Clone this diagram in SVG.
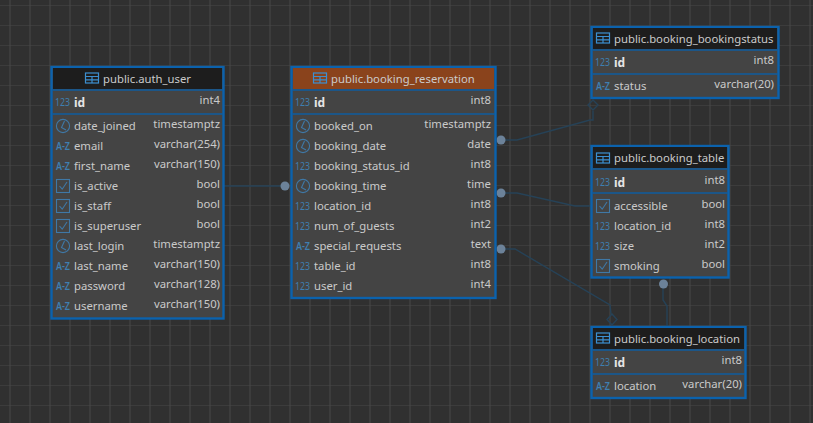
<svg xmlns="http://www.w3.org/2000/svg" width="813" height="423" viewBox="0 0 813 423">
<style>
text{font-family:"Noto Sans","Liberation Sans",sans-serif;font-size:11.3px;fill:#cacaca}
.box{fill:#444444;stroke:#0b62ad;stroke-width:2.4}
.hd{fill:#1d1d1d}
.hdr{fill:#8a431c}
.sep{stroke:#0f5c9f;stroke-width:1.4;fill:none}
.b{font-weight:700;fill:#e4e4e4;font-size:12px}
.t{text-anchor:end}
.n{fill:#3f7fb0;font-size:11.5px}
.az{fill:#3f7fb0;font-size:11px;font-weight:600}
.ic{fill:none;stroke:#3f78a6;stroke-width:1.1}
.tb{fill:none;stroke:#3c8fd0;stroke-width:1.2}
.c{fill:none;stroke:#264257;stroke-width:1.4}
.dot{fill:#6c8299}
.dia{fill:none;stroke:#264257;stroke-width:1.4}
</style>
<defs>
<pattern id="grid" width="20" height="20" patternUnits="userSpaceOnUse" x="0" y="-15">
<rect width="20" height="20" fill="#303030"/>
<path d="M10 0V20M0 0H20" stroke="#474747" stroke-width="1" fill="none"/>
</pattern>
<g id="clk"><circle r="6.6" class="ic"/><path d="M1.500 -5L-1.500 1.500L3 4" class="ic"/></g>
<g id="chk"><rect x="-6.5" y="-6.5" width="13" height="13" class="ic"/><path d="M-3.5 0L-0.8 3.2L4 -4" class="ic"/></g>
<g id="tbl"><rect x="-6.5" y="-5" width="13" height="10" class="tb"/><path d="M-6.5 -1.5H6.5M-6.5 1.8H6.5M0 -1.5V5" class="tb"/></g>
</defs>
<rect width="813" height="423" fill="url(#grid)"/>

<g id="connectors">
<path class="c" d="M224 186H285"/>
<circle class="dot" cx="285" cy="186" r="4.5"/>
<path class="c" d="M501 140H517L590 120H593V111"/>
<path class="dia" d="M593 100L598 105L593 110L588 105Z"/>
<circle class="dot" cx="501" cy="140" r="4.5"/>
<path class="c" d="M501 193H517L575 206H591"/>
<circle class="dot" cx="501" cy="193" r="4.5"/>
<path class="c" d="M501 249H515L610 305L611 314"/>
<path class="dia" d="M612 314L617 319.500L612 325L607 319.500Z"/>
<circle class="dot" cx="501" cy="249" r="4.5"/>
<path class="c" d="M663 284V300L667 306V326"/>
<circle class="dot" cx="663.500" cy="284" r="4.500"/>
</g>

<g id="auth_user">
<rect class="box" x="51.500" y="67" width="172" height="251.500"/>
<rect class="hd" x="53" y="68" width="169" height="21"/>
<path class="sep" d="M52 90H223M52 114H223"/>
<use href="#tbl" x="92" y="78"/>
<text x="103" y="82.500">public.auth_user</text>
<text class="n" x="55" y="106" textLength="15" lengthAdjust="spacingAndGlyphs">123</text><text class="b" x="74" y="106.500">id</text><text class="t" x="220" y="104">int4</text>
<use href="#clk" x="63" y="126"/><text x="74" y="130">date_joined</text><text class="t" x="220" y="128">timestamptz</text>
<text class="az" x="56" y="150" textLength="14" lengthAdjust="spacingAndGlyphs">A-Z</text><text x="74" y="150">email</text><text class="t" x="220" y="148">varchar(254)</text>
<text class="az" x="56" y="170" textLength="14" lengthAdjust="spacingAndGlyphs">A-Z</text><text x="74" y="170">first_name</text><text class="t" x="220" y="168">varchar(150)</text>
<use href="#chk" x="63" y="186"/><text x="74" y="190">is_active</text><text class="t" x="220" y="188">bool</text>
<use href="#chk" x="63" y="206"/><text x="74" y="210">is_staff</text><text class="t" x="220" y="208">bool</text>
<use href="#chk" x="63" y="226"/><text x="74" y="230">is_superuser</text><text class="t" x="220" y="228">bool</text>
<use href="#clk" x="63" y="246"/><text x="74" y="250">last_login</text><text class="t" x="220" y="248">timestamptz</text>
<text class="az" x="56" y="270" textLength="14" lengthAdjust="spacingAndGlyphs">A-Z</text><text x="74" y="270">last_name</text><text class="t" x="220" y="268">varchar(150)</text>
<text class="az" x="56" y="290" textLength="14" lengthAdjust="spacingAndGlyphs">A-Z</text><text x="74" y="290">password</text><text class="t" x="220" y="288">varchar(128)</text>
<text class="az" x="56" y="310" textLength="14" lengthAdjust="spacingAndGlyphs">A-Z</text><text x="74" y="310">username</text><text class="t" x="220" y="308">varchar(150)</text>
</g>

<g id="booking_reservation">
<rect class="box" x="291.500" y="67" width="204" height="231"/>
<rect class="hdr" x="293" y="68" width="201" height="21"/>
<path class="sep" d="M292 90H495M292 114H495"/>
<use href="#tbl" x="320" y="78"/>
<text x="331" y="82.500">public.booking_reservation</text>
<text class="n" x="295" y="106" textLength="15" lengthAdjust="spacingAndGlyphs">123</text><text class="b" x="314" y="106.500">id</text><text class="t" x="491" y="104">int8</text>
<use href="#clk" x="303" y="126"/><text x="314" y="130">booked_on</text><text class="t" x="491" y="128">timestamptz</text>
<use href="#clk" x="303" y="146"/><text x="314" y="150">booking_date</text><text class="t" x="491" y="148">date</text>
<text class="n" x="295" y="170" textLength="15" lengthAdjust="spacingAndGlyphs">123</text><text x="314" y="170">booking_status_id</text><text class="t" x="491" y="168">int8</text>
<use href="#clk" x="303" y="186"/><text x="314" y="190">booking_time</text><text class="t" x="491" y="188">time</text>
<text class="n" x="295" y="210" textLength="15" lengthAdjust="spacingAndGlyphs">123</text><text x="314" y="210">location_id</text><text class="t" x="491" y="208">int8</text>
<text class="n" x="295" y="230" textLength="15" lengthAdjust="spacingAndGlyphs">123</text><text x="314" y="230">num_of_guests</text><text class="t" x="491" y="228">int2</text>
<text class="az" x="296" y="250" textLength="14" lengthAdjust="spacingAndGlyphs">A-Z</text><text x="314" y="250">special_requests</text><text class="t" x="491" y="248">text</text>
<text class="n" x="295" y="270" textLength="15" lengthAdjust="spacingAndGlyphs">123</text><text x="314" y="270">table_id</text><text class="t" x="491" y="268">int8</text>
<text class="n" x="295" y="290" textLength="15" lengthAdjust="spacingAndGlyphs">123</text><text x="314" y="290">user_id</text><text class="t" x="491" y="288">int4</text>
</g>

<g id="booking_bookingstatus">
<rect class="box" x="591.500" y="27" width="187" height="71"/>
<rect class="hd" x="593" y="28" width="184" height="21"/>
<path class="sep" d="M592 50H778M592 74H778"/>
<use href="#tbl" x="603" y="38"/>
<text x="614" y="42.500">public.booking_bookingstatus</text>
<text class="n" x="595" y="66" textLength="15" lengthAdjust="spacingAndGlyphs">123</text><text class="b" x="614" y="66.500">id</text><text class="t" x="774" y="64">int8</text>
<text class="az" x="596" y="90" textLength="14" lengthAdjust="spacingAndGlyphs">A-Z</text><text x="614" y="90">status</text><text class="t" x="774" y="88">varchar(20)</text>
</g>

<g id="booking_table">
<rect class="box" x="591.500" y="146" width="137" height="131.500"/>
<rect class="hd" x="593" y="147" width="134" height="21"/>
<path class="sep" d="M592 169H728M592 193H728"/>
<use href="#tbl" x="603" y="158"/>
<text x="614" y="162">public.booking_table</text>
<text class="n" x="595" y="186" textLength="15" lengthAdjust="spacingAndGlyphs">123</text><text class="b" x="614" y="186.500">id</text><text class="t" x="725" y="184">int8</text>
<use href="#chk" x="603" y="206"/><text x="614" y="210">accessible</text><text class="t" x="725" y="208">bool</text>
<text class="n" x="595" y="230" textLength="15" lengthAdjust="spacingAndGlyphs">123</text><text x="614" y="230">location_id</text><text class="t" x="725" y="228">int8</text>
<text class="n" x="595" y="250" textLength="15" lengthAdjust="spacingAndGlyphs">123</text><text x="614" y="250">size</text><text class="t" x="725" y="248">int2</text>
<use href="#chk" x="603" y="266"/><text x="614" y="270">smoking</text><text class="t" x="725" y="268">bool</text>
</g>

<g id="booking_location">
<rect class="box" x="591.500" y="327" width="154" height="71"/>
<rect class="hd" x="593" y="328" width="151" height="21"/>
<path class="sep" d="M592 350H745M592 374H745"/>
<use href="#tbl" x="603" y="338"/>
<text x="614" y="342.500">public.booking_location</text>
<text class="n" x="595" y="366" textLength="15" lengthAdjust="spacingAndGlyphs">123</text><text class="b" x="614" y="366.500">id</text><text class="t" x="742" y="364">int8</text>
<text class="az" x="596" y="390" textLength="14" lengthAdjust="spacingAndGlyphs">A-Z</text><text x="614" y="390">location</text><text class="t" x="742" y="388">varchar(20)</text>
</g>
</svg>
